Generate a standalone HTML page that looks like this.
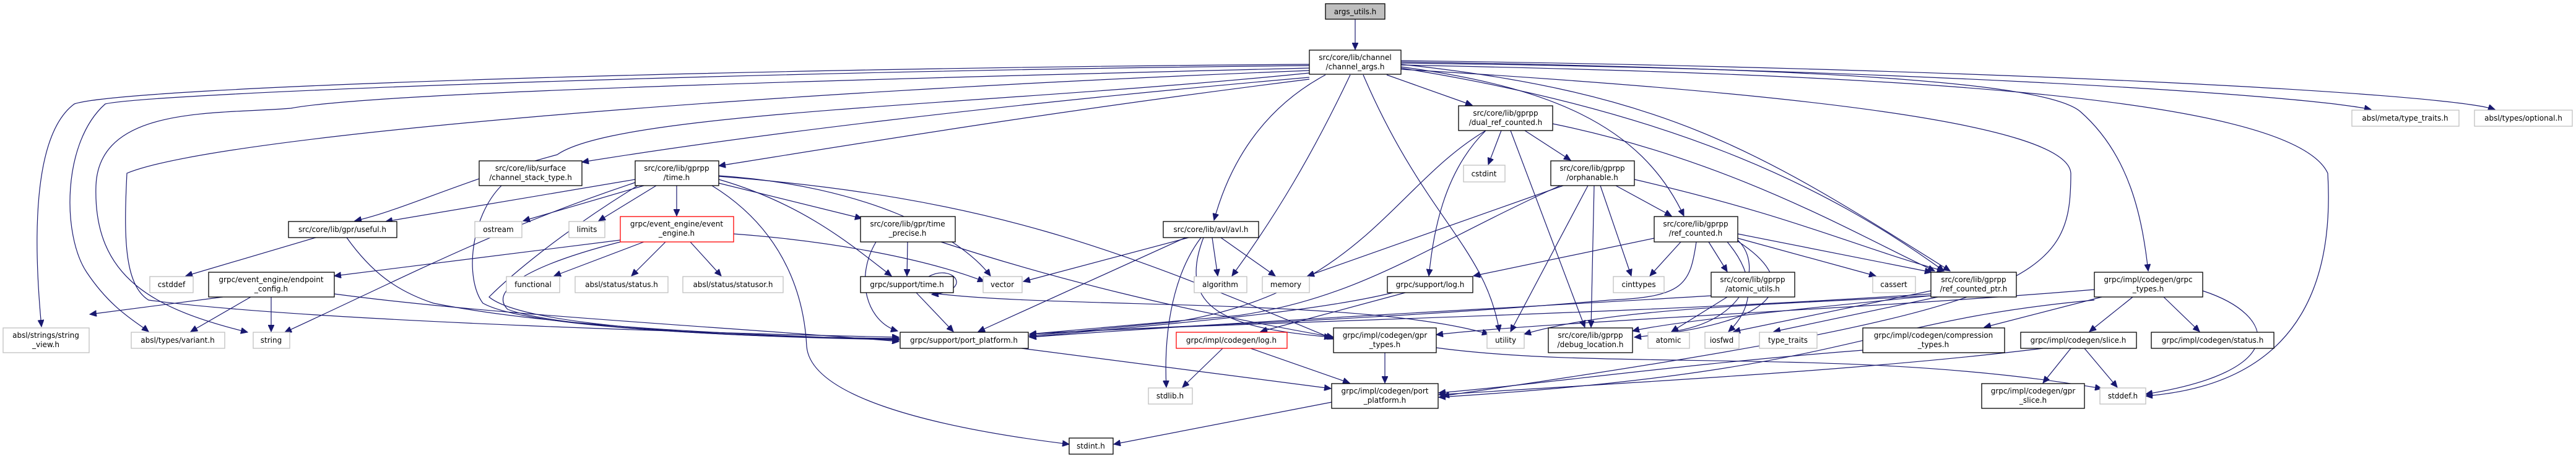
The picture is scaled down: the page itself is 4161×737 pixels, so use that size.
<!DOCTYPE html>
<html><head><meta charset="utf-8"><style>
html,body{margin:0;padding:0;background:#fff;}
svg{display:block;}
text{font-family:"DejaVu Sans","Liberation Sans",sans-serif;font-size:12px;fill:#000;}
.e{fill:none;stroke:#191970;stroke-width:1.2;}
.b{fill:#fff;stroke:#000;stroke-width:1.3;}
.g{fill:#fff;stroke:#bfbfbf;stroke-width:1.3;}
.r{fill:#fff;stroke:#ff0000;stroke-width:1.3;}
.s{fill:#bfbfbf;stroke:#000;stroke-width:1.3;}
</style></head><body>
<svg width="4161" height="737" viewBox="0 0 4161 737" xmlns="http://www.w3.org/2000/svg">
<defs><marker id="a" markerUnits="userSpaceOnUse" markerWidth="12" markerHeight="10" refX="11" refY="5" orient="auto"><path d="M0,0 L11,5 L0,10 z" fill="#191970" stroke="#191970"/></marker></defs>
<g class="e" marker-end="url(#a)">
<path d="M2189 31 L2189 80"/>
<path d="M2115 104 C1200 110,200 140,120 168 C50 220,55 400,67 528"/>
<path d="M2115 106 C1200 115,250 150,170 168 C100 230,100 380,140 440 C180 500,220 520,240 536"/>
<path d="M2115 110 C1300 130,600 150,470 175 C350 185,160 170,155 300 C150 450,250 500,400 537"/>
<path d="M2115 114 C1200 150,350 220,205 280 C200 380,200 460,240 485 C500 520,1200 540,1452 545"/>
<path d="M2115 118 C1600 170,1000 180,900 250 C750 290,650 340,573 357"/>
<path d="M2115 125 C1600 170,1200 220,940 262"/>
<path d="M2115 128 C1700 180,1400 230,1161 268"/>
<path d="M2141 121 C2050 170,1990 250,1961 356"/>
<path d="M2181 121 C2120 250,2060 350,1990 446"/>
<path d="M2202 121 C2300 350,2400 400,2422 536"/>
<path d="M2240 121 L2378 170"/>
<path d="M2263 108 C2500 140,2650 200,2720 349"/>
<path d="M2263 104 C2700 150,2850 250,3150 438"/>
<path d="M2263 110 C2700 180,2950 300,3140 438"/>
<path d="M2263 100 C2900 110,3300 130,3360 180 C3440 250,3460 350,3470 438"/>
<path d="M2263 102 C3000 110,3700 150,3830 177"/>
<path d="M2263 98 C3200 110,3950 150,4030 177"/>
<path d="M2263 105 C3000 120,3700 150,3760 280 C3770 450,3720 620,3466 640"/>
<path d="M2263 112 C2900 150,3340 200,3345 280 C3345 450,3300 500,2330 640"/>
<path d="M1026 290 L623 358"/>
<path d="M1026 295 C800 370,650 450,460 537"/>
<path d="M1040 300 L845 357"/>
<path d="M1060 300 L967 357"/>
<path d="M1093 300 L1093 349"/>
<path d="M1030 300 C900 380,820 450,790 480 C850 530,1200 545,1452 547"/>
<path d="M1161 296 L1392 353"/>
<path d="M1161 290 C1300 330,1380 400,1440 446"/>
<path d="M1150 300 C1280 380,1300 500,1303 560 C1310 640,1500 690,1727 718"/>
<path d="M1161 285 C1600 320,1800 400,2154 548"/>
<path d="M1161 284 C1400 300,1550 380,1600 446"/>
<path d="M810 300 C760 350,750 450,780 490 C850 530,1200 545,1452 548"/>
<path d="M510 384 L300 446"/>
<path d="M560 384 C600 440,640 470,700 490 C900 530,1200 540,1452 550"/>
<path d="M360 480 L145 508"/>
<path d="M405 480 L308 536"/>
<path d="M438 480 L438 536"/>
<path d="M540 475 C800 510,1200 530,1452 552"/>
<path d="M1040 391 L895 446"/>
<path d="M1075 391 L1020 446"/>
<path d="M1115 391 L1165 446"/>
<path d="M1002 388 L540 446"/>
<path d="M1002 391 C850 430,790 470,820 500 C900 530,1200 545,1452 549"/>
<path d="M1185 378 C1350 390,1500 420,1590 455"/>
<path d="M1466 391 L1465 446"/>
<path d="M1415 391 C1380 450,1400 520,1450 535"/>
<path d="M1520 391 C1700 450,1900 500,2154 545"/>
<path d="M1500 447 C1540 425,1575 470,1505 476"/>
<path d="M1480 473 L1540 536"/>
<path d="M1500 473 C1700 500,2200 480,2405 540"/>
<path d="M1920 384 L1653 455"/>
<path d="M1958 384 L1967 446"/>
<path d="M1972 384 L2060 446"/>
<path d="M1915 384 L1580 536"/>
<path d="M1940 384 C1890 450,1880 550,1884 626"/>
<path d="M1944 384 C1900 500,1980 530,2150 545"/>
<path d="M2425 211 L2404 266"/>
<path d="M2463 211 L2537 259"/>
<path d="M2400 211 C2250 300,2200 470,1900 520 L1662 543"/>
<path d="M2400 211 C2330 280,2315 380,2308 446"/>
<path d="M2440 211 L2560 529"/>
<path d="M2508 200 C2800 260,3000 380,3125 438"/>
<path d="M2525 300 L2112 446"/>
<path d="M2520 300 C2300 400,2200 480,2000 510 L1663 540"/>
<path d="M2565 300 L2440 536"/>
<path d="M2575 300 L2570 529"/>
<path d="M2585 300 L2635 446"/>
<path d="M2610 300 L2700 349"/>
<path d="M2640 290 C2900 350,3000 400,3140 438"/>
<path d="M2672 385 L2380 446"/>
<path d="M2715 391 L2665 446"/>
<path d="M2760 391 L2790 439"/>
<path d="M2807 385 L3030 446"/>
<path d="M2807 378 L3120 440"/>
<path d="M2740 391 C2730 460,2720 480,2600 485 C2200 520,1800 530,1663 540"/>
<path d="M2807 390 C2900 450,2900 520,2640 545"/>
<path d="M2807 388 C2850 430,2820 520,2700 536"/>
<path d="M2790 391 C2840 450,2830 500,2792 536"/>
<path d="M2790 480 L2700 536"/>
<path d="M2764 478 C2400 500,2000 520,1663 545"/>
<path d="M2270 473 L2036 536"/>
<path d="M2250 473 C2100 510,1800 530,1663 545"/>
<path d="M3130 480 L2865 536"/>
<path d="M3119 470 L2800 536"/>
<path d="M3119 475 C2600 510,2000 520,1663 540"/>
<path d="M3119 478 C2900 500,2700 520,2637 535"/>
<path d="M3119 478 C2800 495,2600 500,2462 540"/>
<path d="M3445 480 L3375 536"/>
<path d="M3495 480 L3553 536"/>
<path d="M3395 480 L3205 529"/>
<path d="M3558 470 C3680 510,3700 600,3466 637"/>
<path d="M3383 485 C3000 520,3000 600,2324 642"/>
<path d="M3383 468 C3000 500,2500 520,2320 541"/>
<path d="M3009 566 C2700 590,2500 620,2324 635"/>
<path d="M3300 563 C3000 600,2600 620,2324 638"/>
<path d="M3345 563 L3300 619"/>
<path d="M3367 563 L3420 626"/>
<path d="M2237 570 L2237 619"/>
<path d="M2320 562 C2600 600,3000 560,3395 628"/>
<path d="M1975 563 L1910 626"/>
<path d="M2020 563 L2180 619"/>
<path d="M1650 563 L2150 628"/>
<path d="M2151 650 L1799 718"/>
</g>
<g>
<rect class="s" x="2141" y="6" width="96" height="25"/><text x="2189" y="23" text-anchor="middle">args_utils.h</text>
<rect class="b" x="2115" y="81" width="148" height="39"/><text x="2189" y="97" text-anchor="middle">src/core/lib/channel</text><text x="2189" y="112" text-anchor="middle">/channel_args.h</text>
<rect class="g" x="5" y="530" width="139" height="40"/><text x="74" y="546" text-anchor="middle">absl/strings/string</text><text x="74" y="561" text-anchor="middle">_view.h</text>
<rect class="g" x="212" y="537" width="151" height="26"/><text x="287" y="554" text-anchor="middle">absl/types/variant.h</text>
<rect class="g" x="409" y="537" width="59" height="26"/><text x="438" y="554" text-anchor="middle">string</text>
<rect class="g" x="242" y="447" width="70" height="26"/><text x="277" y="464" text-anchor="middle">cstddef</text>
<rect class="b" x="337" y="440" width="203" height="40"/><text x="438" y="456" text-anchor="middle">grpc/event_engine/endpoint</text><text x="438" y="471" text-anchor="middle">_config.h</text>
<rect class="b" x="466" y="358" width="175" height="26"/><text x="553" y="375" text-anchor="middle">src/core/lib/gpr/useful.h</text>
<rect class="b" x="774" y="260" width="166" height="40"/><text x="857" y="276" text-anchor="middle">src/core/lib/surface</text><text x="857" y="291" text-anchor="middle">/channel_stack_type.h</text>
<rect class="b" x="1026" y="260" width="135" height="40"/><text x="1093" y="276" text-anchor="middle">src/core/lib/gprpp</text><text x="1093" y="291" text-anchor="middle">/time.h</text>
<rect class="g" x="767" y="358" width="76" height="26"/><text x="805" y="375" text-anchor="middle">ostream</text>
<rect class="g" x="919" y="358" width="58" height="26"/><text x="948" y="375" text-anchor="middle">limits</text>
<rect class="r" x="1002" y="350" width="183" height="41"/><text x="1093" y="366" text-anchor="middle">grpc/event_engine/event</text><text x="1093" y="381" text-anchor="middle">_engine.h</text>
<rect class="g" x="818" y="447" width="86" height="26"/><text x="861" y="464" text-anchor="middle">functional</text>
<rect class="g" x="929" y="447" width="150" height="26"/><text x="1004" y="464" text-anchor="middle">absl/status/status.h</text>
<rect class="g" x="1103" y="447" width="162" height="26"/><text x="1184" y="464" text-anchor="middle">absl/status/statusor.h</text>
<rect class="b" x="1390" y="350" width="153" height="41"/><text x="1466" y="366" text-anchor="middle">src/core/lib/gpr/time</text><text x="1466" y="381" text-anchor="middle">_precise.h</text>
<rect class="b" x="1390" y="447" width="150" height="26"/><text x="1465" y="464" text-anchor="middle">grpc/support/time.h</text>
<rect class="g" x="1588" y="447" width="63" height="26"/><text x="1619" y="464" text-anchor="middle">vector</text>
<rect class="b" x="1879" y="358" width="154" height="26"/><text x="1956" y="375" text-anchor="middle">src/core/lib/avl/avl.h</text>
<rect class="g" x="1929" y="447" width="85" height="26"/><text x="1971" y="464" text-anchor="middle">algorithm</text>
<rect class="g" x="2039" y="447" width="76" height="26"/><text x="2077" y="464" text-anchor="middle">memory</text>
<rect class="b" x="2241" y="447" width="138" height="26"/><text x="2310" y="464" text-anchor="middle">grpc/support/log.h</text>
<rect class="b" x="2356" y="171" width="152" height="40"/><text x="2432" y="187" text-anchor="middle">src/core/lib/gprpp</text><text x="2432" y="202" text-anchor="middle">/dual_ref_counted.h</text>
<rect class="g" x="2364" y="267" width="67" height="27"/><text x="2397" y="285" text-anchor="middle">cstdint</text>
<rect class="b" x="2505" y="260" width="135" height="40"/><text x="2572" y="276" text-anchor="middle">src/core/lib/gprpp</text><text x="2572" y="291" text-anchor="middle">/orphanable.h</text>
<rect class="b" x="2672" y="350" width="135" height="41"/><text x="2739" y="366" text-anchor="middle">src/core/lib/gprpp</text><text x="2739" y="381" text-anchor="middle">/ref_counted.h</text>
<rect class="g" x="2606" y="447" width="82" height="26"/><text x="2647" y="464" text-anchor="middle">cinttypes</text>
<rect class="b" x="2764" y="440" width="135" height="40"/><text x="2831" y="456" text-anchor="middle">src/core/lib/gprpp</text><text x="2831" y="471" text-anchor="middle">/atomic_utils.h</text>
<rect class="b" x="1454" y="537" width="207" height="26"/><text x="1557" y="554" text-anchor="middle">grpc/support/port_platform.h</text>
<rect class="r" x="1900" y="537" width="179" height="26"/><text x="1989" y="554" text-anchor="middle">grpc/impl/codegen/log.h</text>
<rect class="b" x="2154" y="530" width="166" height="40"/><text x="2237" y="546" text-anchor="middle">grpc/impl/codegen/gpr</text><text x="2237" y="561" text-anchor="middle">_types.h</text>
<rect class="g" x="2402" y="537" width="60" height="26"/><text x="2432" y="554" text-anchor="middle">utility</text>
<rect class="b" x="2501" y="530" width="136" height="40"/><text x="2569" y="546" text-anchor="middle">src/core/lib/gprpp</text><text x="2569" y="561" text-anchor="middle">/debug_location.h</text>
<rect class="g" x="2662" y="537" width="67" height="26"/><text x="2695" y="554" text-anchor="middle">atomic</text>
<rect class="g" x="2754" y="537" width="55" height="26"/><text x="2781" y="554" text-anchor="middle">iosfwd</text>
<rect class="g" x="2842" y="537" width="93" height="26"/><text x="2888" y="554" text-anchor="middle">type_traits</text>
<rect class="g" x="3025" y="447" width="69" height="26"/><text x="3059" y="464" text-anchor="middle">cassert</text>
<rect class="b" x="3119" y="440" width="138" height="40"/><text x="3188" y="456" text-anchor="middle">src/core/lib/gprpp</text><text x="3188" y="471" text-anchor="middle">/ref_counted_ptr.h</text>
<rect class="b" x="3383" y="440" width="175" height="40"/><text x="3470" y="456" text-anchor="middle">grpc/impl/codegen/grpc</text><text x="3470" y="471" text-anchor="middle">_types.h</text>
<rect class="b" x="3009" y="530" width="229" height="40"/><text x="3123" y="546" text-anchor="middle">grpc/impl/codegen/compression</text><text x="3123" y="561" text-anchor="middle">_types.h</text>
<rect class="b" x="3264" y="537" width="187" height="26"/><text x="3357" y="554" text-anchor="middle">grpc/impl/codegen/slice.h</text>
<rect class="b" x="3475" y="537" width="198" height="26"/><text x="3574" y="554" text-anchor="middle">grpc/impl/codegen/status.h</text>
<rect class="b" x="3201" y="620" width="166" height="40"/><text x="3284" y="636" text-anchor="middle">grpc/impl/codegen/gpr</text><text x="3284" y="651" text-anchor="middle">_slice.h</text>
<rect class="g" x="3392" y="627" width="74" height="26"/><text x="3429" y="644" text-anchor="middle">stddef.h</text>
<rect class="b" x="2151" y="620" width="172" height="40"/><text x="2237" y="636" text-anchor="middle">grpc/impl/codegen/port</text><text x="2237" y="651" text-anchor="middle">_platform.h</text>
<rect class="g" x="1855" y="627" width="71" height="26"/><text x="1890" y="644" text-anchor="middle">stdlib.h</text>
<rect class="b" x="1727" y="708" width="71" height="26"/><text x="1762" y="725" text-anchor="middle">stdint.h</text>
<rect class="g" x="3799" y="178" width="173" height="26"/><text x="3885" y="195" text-anchor="middle">absl/meta/type_traits.h</text>
<rect class="g" x="3997" y="178" width="158" height="26"/><text x="4076" y="195" text-anchor="middle">absl/types/optional.h</text>
</g>
</svg>
</body></html>
